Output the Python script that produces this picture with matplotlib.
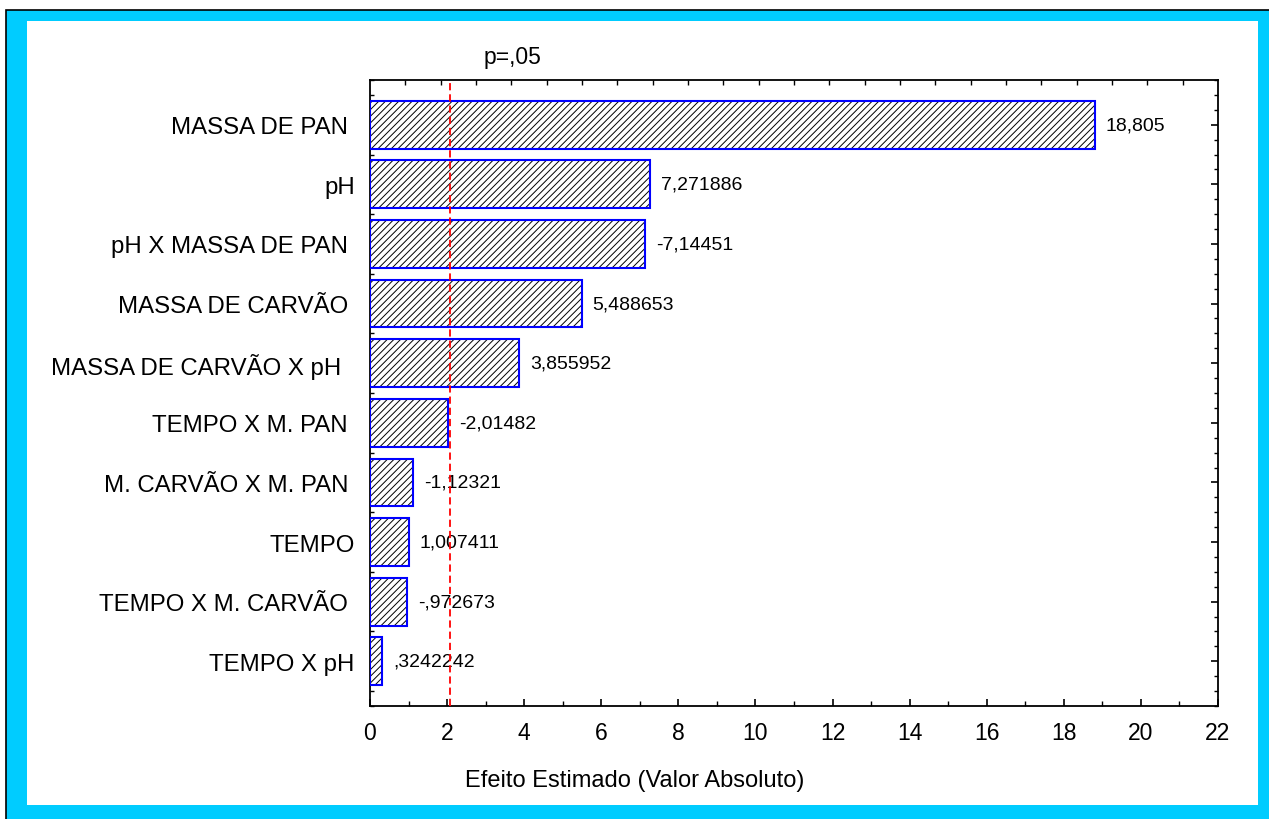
import matplotlib
matplotlib.use("Agg")
import matplotlib.pyplot as plt
import numpy as np
from matplotlib.patches import Rectangle
from matplotlib.ticker import MultipleLocator

# efeitos padronizados (estimativa / erro padrao), ordenados por modulo
fatores = ["MASSA DE PAN ", "pH", "pH X MASSA DE PAN ", "MASSA DE CARVÃO ",
           "MASSA DE CARVÃO X pH  ", "TEMPO X M. PAN ", "M. CARVÃO X M. PAN ",
           "TEMPO", "TEMPO X M. CARVÃO ", "TEMPO X pH"]
efeitos = [18.805, 7.271886, -7.14451, 5.488653, 3.855952,
           -2.01482, -1.12321, 1.007411, -0.972673, 0.3242242]
t_crit = 2.074  # p=,05
xticks = list(range(0, 23, 2))

plt.rcParams['font.family'] = ['Liberation Sans', 'DejaVu Sans']
plt.rcParams['hatch.linewidth'] = 0.7

W, H = 1269, 820


def fx(px):
    return px / W


def fy(py):
    return 1 - py / H


def rotulo(v):
    s = '%.7g' % v
    s = s.replace('0.', '.', 1) if s.lstrip('-').startswith('0.') else s
    return s.replace('.', ',')


fig = plt.figure(figsize=(W / 100, H / 100), dpi=100)

# moldura azul com borda preta
fig.patches.append(Rectangle((fx(6.5), fy(H + 10)), fx(W + 20), fy(10.5) - fy(H + 10),
                             transform=fig.transFigure, facecolor='#00CCFF',
                             edgecolor='black', linewidth=1.2, zorder=-2))
fig.patches.append(Rectangle((fx(27), fy(806)), fx(1258 - 27), fy(22) - fy(806),
                             transform=fig.transFigure, facecolor='white',
                             edgecolor='none', zorder=-1))

ax = fig.add_axes([fx(370), fy(707), fx(1218 - 370), fy(81) - fy(707)])

y = np.arange(len(fatores))
mod = np.abs(efeitos)

ax.barh(y, mod, height=0.8, color='white', edgecolor='black', linewidth=0,
        hatch='/////', zorder=2)
ax.barh(y, mod, height=0.8, color='none', edgecolor='#0000FF', linewidth=1.5,
        zorder=3)

for yi, m, v in zip(y, mod, efeitos):
    ax.annotate(rotulo(v), xy=(m, yi), xytext=(8, 0), textcoords='offset points',
                ha='left', va='center', fontsize=14, zorder=4)

ax.axvline(t_crit, color='#FF0000', linestyle=(0, (4, 2.2)), linewidth=1.3, zorder=4)
ax.annotate('p=,05', xy=(t_crit, 1), xycoords=('data', 'axes fraction'),
            xytext=(24, 12), textcoords='offset points', ha='left', va='baseline',
            fontsize=16.5)

ax.set_xlim(0, 22)
ax.set_ylim(len(fatores) - 0.25, -0.75)
ax.set_xticks(xticks)
ax.xaxis.set_minor_locator(MultipleLocator(1))
ax.set_yticks(y)
ax.set_yticklabels(fatores, fontsize=17.3)
ax.yaxis.set_minor_locator(MultipleLocator(0.25))
ax.tick_params(axis='x', which='major', direction='in', length=5, width=1.2,
               labelsize=16.5, pad=10.5, top=False)
ax.tick_params(axis='x', which='minor', direction='in', length=3.5, width=1.0, top=False)
ax.tick_params(axis='y', which='major', direction='in', length=5, width=1.2,
               right=True, pad=11)
ax.tick_params(axis='y', which='minor', direction='in', length=3, width=1.0, right=True)
# titulo do eixo centrado na largura da figura
ax.set_xlabel('Efeito Estimado (Valor Absoluto)', fontsize=17, labelpad=18,
              x=(W / 2 - 370) / (1218 - 370), ha='center')

for sp in ax.spines.values():
    sp.set_linewidth(1.3)

# escala superior com 24 divisoes
topo = ax.twiny()
topo.set_xlim(0, 24)
topo.set_xticks(np.arange(1, 24))
topo.tick_params(axis='x', direction='in', length=3.5, width=1.0, labeltop=False)
for sp in topo.spines.values():
    sp.set_visible(False)

fig.savefig('out.png', dpi=100, facecolor='white')
